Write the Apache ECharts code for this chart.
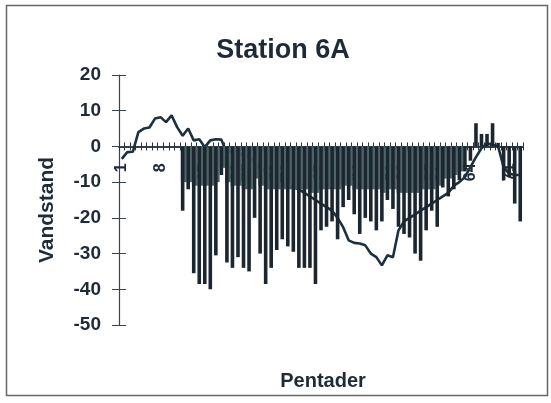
<!DOCTYPE html>
<html>
<head>
<meta charset="utf-8">
<script src="https://cdn.jsdelivr.net/npm/echarts@6/dist/echarts.min.js"></script>
<style>
html,body{margin:0;padding:0;background:#fff;}
#c{width:551px;height:403px;}
</style>
</head>
<body>
<div id="c"></div>
<script>
// Pentads 1..73
const pentads = Array.from({length: 73}, (_, i) => String(i + 1));
const yTicks = [-50, -40, -30, -20, -10, 0, 10, 20];

// Bars (Vandstand per pentade)
const barValues = [
  null, null, null, null, null, null, null, null, null, null, null,
  -18, -12, -35.5, -38.5, -38.5, -40, -30.5, -8, -32.5,
  -34, -31, -34, -35, -20, -30, -38.5, -34, -29, -26,
  -28, -29.5, -34, -34, -34, -38.5, -23.5, -22.5, -21, -26,
  -17, -15, -19, -24.5, -20, -21, -23.5, -21, -15, -17.5,
  -22.5, -24.5, -25.5, -30, -32, -23.5, -18, -22.5, -11.5, -14,
  -12, -9.5, -7, -4, 6.5, 3.5, 3.5, 6.5, 1, -9.5,
  -8.5, -16, -21
];

// Lighter (grey-teal) series seen between the dark bars near the zero line
const greyValues = [
  null, null, null, null, null, null, null, null, null, null, null,
  -10, -10, -11, -11, -11, -11, -10, -6, -10,
  -11, -11, -12, -12, -9, -11, -12, -12, -12, -12,
  -12, -12, -12, -12, -13, -13, -12, -12, -12, -12,
  -11, -11, -12, -12, -12, -12, -12, -13, -12, -12,
  -13, -13, -13, -13, -12, -12, -12, -11, -9, -9,
  -8, -7, null, null, null, null, null, null, null, null,
  null, null, null
];

// Line (Vandstand curve)
const lineValues = [
  -3.5, -1.6, -1.5, 4, 5, 5.3, 7.8, 8.2, 6.8, 8.7,
  5.4, 3, 5, 1.7, 2, -0.2, 1.7, 2, 1.9, -2,
  -1, -1.5, -2.5, -3, -4, -6, -7, -8, -9, -10,
  -11, -11.5, -12, -13, -14, -15, -16, -17, -18, -20,
  -22.6, -26.3, -27, -27.2, -27.7, -30, -31, -33.3, -30.5, -31,
  -23.5, -21, -20, -19, -18, -17, -16, -15, -14, -13,
  -11, -10, -8.6, -5.8, -3, -0.5, 0.8, 0.5, 0, -5.8,
  -7.6, -8, -8
];

const txt = '#1e2a38';
const font = 'Liberation Sans';
const gridTop = 75, gridH = 250;
const yMin = yTicks[0], yMax = yTicks[yTicks.length - 1];
// distance from grid bottom up to the zero line (axis placed there via offset)
const zeroOffset = -gridH * (0 - yMin) / (yMax - yMin);

const chart = echarts.init(document.getElementById('c'), null, {renderer: 'canvas'});
chart.setOption({
  backgroundColor: '#fff',
  animation: false,
  title: {
    text: 'Station 6A', left: 278, top: 32, textAlign: 'center',
    textStyle: {fontFamily: font, fontSize: 27, fontWeight: 'bold', color: txt}
  },
  graphic: [
    {type: 'rect', shape: {x: 6.5, y: 5.5, width: 541, height: 390},
     style: {fill: 'none', stroke: '#666', lineWidth: 1.5}, z: 0},
    {type: 'text', x: 323, y: 381,
     style: {text: 'Pentader', font: 'bold 20px "Liberation Sans"', fill: txt,
             textAlign: 'center', textVerticalAlign: 'middle'}},
    {type: 'text', x: 47, y: 210, rotation: Math.PI / 2,
     style: {text: 'Vandstand', font: 'bold 21px "Liberation Sans"', fill: txt,
             textAlign: 'center', textVerticalAlign: 'middle'}}
  ],
  grid: {left: 119, right: 28, top: gridTop, height: gridH, containLabel: false},
  xAxis: [{
    type: 'category', data: pentads, position: 'bottom', offset: zeroOffset, z: 0,
    axisLine: {onZero: false, lineStyle: {color: '#2a3440', width: 1.5}},
    axisTick: {show: true, interval: 0, length: 4, lineStyle: {color: '#2a3440'}},
    axisLabel: {interval: 6, rotate: 90, margin: 17, fontFamily: font, fontSize: 16,
                fontWeight: 'bold', color: txt},
    splitLine: {show: false}
  }, {
    type: 'category', data: pentads, position: 'bottom', offset: zeroOffset, z: 0,
    axisLine: {onZero: false, lineStyle: {color: '#2a3440', width: 1.5}},
    axisTick: {show: true, inside: true, interval: 0, length: 4, lineStyle: {color: '#2a3440'}},
    axisLabel: {show: false}, splitLine: {show: false}
  }],
  yAxis: [{
    type: 'value', min: yMin, max: yMax, interval: 10,
    axisLine: {show: true, lineStyle: {color: '#3a4450', width: 1.2}},
    axisTick: {show: true, length: 7, lineStyle: {color: '#3a4450'}},
    axisLabel: {margin: 18, fontFamily: font, fontSize: 19, fontWeight: 'bold', color: txt},
    splitLine: {show: false}
  }, {
    type: 'value', min: yMin, max: yMax, interval: 10, position: 'left',
    axisLine: {show: false},
    axisTick: {show: true, inside: true, length: 7, lineStyle: {color: '#3a4450'}},
    axisLabel: {show: false}, splitLine: {show: false}
  }],
  series: [{
    type: 'line', data: lineValues, symbol: 'none', smooth: false,
    lineStyle: {color: '#1d3040', width: 2.6}, z: 2
  }, {
    type: 'bar', data: greyValues, barWidth: 5.6, barGap: '-100%',
    itemStyle: {color: '#4f6466'}, z: 3
  }, {
    type: 'bar', data: barValues, barWidth: 3.6, barGap: '-100%',
    itemStyle: {color: '#1c2630'}, z: 4
  }]
});
</script>
</body>
</html>
